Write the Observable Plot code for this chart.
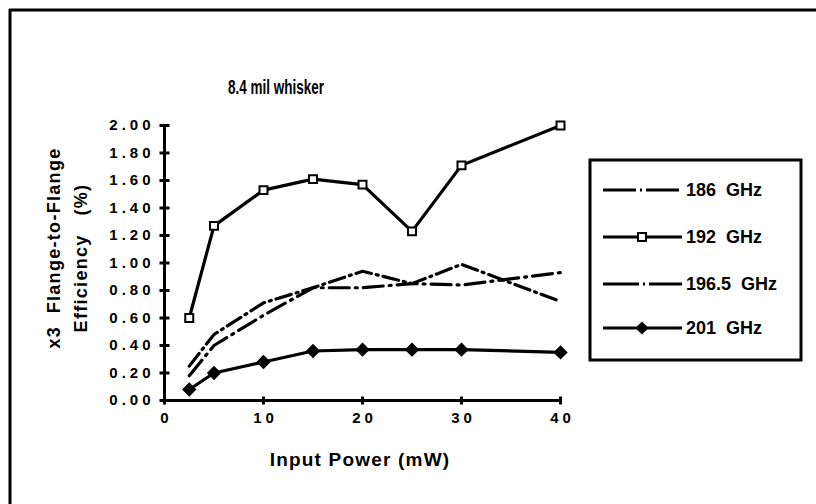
<!DOCTYPE html>
<html>
<head>
<meta charset="utf-8">
<script src="https://cdn.jsdelivr.net/npm/d3@7"></script>
<script src="https://cdn.jsdelivr.net/npm/@observablehq/plot@0.6"></script>
<style>
  html, body { margin: 0; padding: 0; background: #fff; overflow: hidden; }
  #chart { position: relative; width: 816px; height: 504px; overflow: hidden; }
  #chart svg { display: block; font-family: "Liberation Sans", Arial, sans-serif; font-weight: bold; }
  .ticklab text { letter-spacing: 4px; }
</style>
</head>
<body>
<div id="chart"></div>
<script>
// ---- data ----
const power = [2.5, 5, 10, 15, 20, 25, 30, 40];
const eff186 = [0.25, 0.48, 0.71, 0.82, 0.94, 0.85, 0.99, 0.72];
const eff192 = [0.60, 1.27, 1.53, 1.61, 1.57, 1.23, 1.71, 2.00];
const eff1965 = [0.18, 0.40, 0.62, 0.82, 0.82, 0.85, 0.84, 0.93];
const eff201 = [0.08, 0.20, 0.28, 0.36, 0.37, 0.37, 0.37, 0.35];
const seriesNames = ["186  GHz", "192  GHz", "196.5  GHz", "201  GHz"];
const yTicks = [0, 0.2, 0.4, 0.6, 0.8, 1.0, 1.2, 1.4, 1.6, 1.8, 2.0];
const xTicks = [0, 10, 20, 30, 40];
const titleText = "8.4 mil whisker";
const yLabel1 = "x3  Flange-to-Flange";
const yLabel2 = "Efficiency   (%)";
const xLabel = "Input Power (mW)";

const toRows = (vals) => power.map((p, i) => ({x: p, y: vals[i]}));
const r186 = toRows(eff186), r192 = toRows(eff192), r1965 = toRows(eff1965), r201 = toRows(eff201);

const hTick = {draw(ctx) { ctx.moveTo(-5, 0); ctx.lineTo(5, 0); }};
const vTick = {draw(ctx) { ctx.moveTo(0, -4); ctx.lineTo(0, 4); }};

const W = 816, H = 504;
const svg = Plot.plot({
  width: W, height: H,
  marginLeft: 164, marginRight: 256, marginTop: 125, marginBottom: 104,
  x: {domain: [0, 40]},
  y: {domain: [0, 2]},
  style: {fontSize: "14px", fontWeight: "bold", color: "#000", background: "#fff", overflow: "hidden"},
  marks: [
    Plot.axisY({ticks: yTicks, tickSize: 0, tickPadding: 10, tickFormat: d3.format(".2f"), fontSize: 15, className: "ticklab", label: null}),
    Plot.axisX({ticks: xTicks, tickSize: 0, tickPadding: 12, tickFormat: d3.format("d"), fontSize: 15, className: "ticklab", label: null, dx: 2}),
    Plot.ruleX([0], {stroke: "#000", strokeWidth: 3}),
    Plot.ruleY([0], {stroke: "#000", strokeWidth: 3}),
    Plot.dot(yTicks, {x: () => 0, y: d => d, symbol: hTick, stroke: "#000", strokeWidth: 3, r: 5}),
    Plot.dot(xTicks, {x: d => d, y: () => 0, symbol: vTick, stroke: "#000", strokeWidth: 3, r: 5}),
    Plot.line(r186, {x: "x", y: "y", stroke: "#000", strokeWidth: 3.2, strokeDasharray: "16,5,2,5"}),
    Plot.line(r1965, {x: "x", y: "y", stroke: "#000", strokeWidth: 3.2, strokeDasharray: "20,6,2,6"}),
    Plot.line(r192, {x: "x", y: "y", stroke: "#000", strokeWidth: 3.2}),
    Plot.dot(r192, {x: "x", y: "y", symbol: "square", r: 4.5, fill: "#fff", stroke: "#000", strokeWidth: 2}),
    Plot.line(r201, {x: "x", y: "y", stroke: "#000", strokeWidth: 3.2}),
    Plot.dot(r201, {x: "x", y: "y", symbol: "diamond2", r: 5.5, fill: "#000", stroke: "#000", strokeWidth: 1.5})
  ]
});
document.getElementById("chart").appendChild(svg);

const s = d3.select(svg);
// outer frame (left and top edges only)
s.append("line").attr("x1", 10).attr("x2", 10).attr("y1", 9).attr("y2", H).attr("stroke", "#000").attr("stroke-width", 3);
s.append("line").attr("x1", 9).attr("x2", W).attr("y1", 10).attr("y2", 10).attr("stroke", "#000").attr("stroke-width", 3);

// title (condensed look)
s.append("text").attr("x", 228).attr("y", 94).attr("text-anchor", "start")
  .attr("textLength", 96).attr("lengthAdjust", "spacingAndGlyphs")
  .attr("font-size", 20).attr("font-weight", "bold").text(titleText);

// y label (two lines, rotated)
s.append("text").attr("transform", "translate(60,248) rotate(-90)").attr("text-anchor", "middle")
  .attr("font-size", 18).attr("font-weight", "bold").attr("letter-spacing", "1.3px").style("white-space", "pre").text(yLabel1);
s.append("text").attr("transform", "translate(87,258) rotate(-90)").attr("text-anchor", "middle")
  .attr("font-size", 18).attr("font-weight", "bold").attr("letter-spacing", "1.3px").style("white-space", "pre").text(yLabel2);

// x label
s.append("text").attr("x", 360).attr("y", 466).attr("text-anchor", "middle")
  .attr("font-size", 19).attr("font-weight", "bold").attr("letter-spacing", "1.2px").style("white-space", "pre").text(xLabel);

// legend
const lg = s.append("g");
lg.append("rect").attr("x", 590).attr("y", 160).attr("width", 211).attr("height", 200)
  .attr("fill", "#fff").attr("stroke", "#000").attr("stroke-width", 3);
const rowsY = [190, 237, 284, 328];
const dashes = ["33,4,2,4", null, "36,4,2,4", null];
rowsY.forEach((yy, i) => {
  lg.append("line").attr("x1", 603).attr("x2", 682).attr("y1", yy).attr("y2", yy)
    .attr("stroke", "#000").attr("stroke-width", 3).attr("stroke-dasharray", dashes[i]);
  if (i === 1) lg.append("rect").attr("x", 638).attr("y", yy - 4).attr("width", 8).attr("height", 8)
    .attr("fill", "#fff").attr("stroke", "#000").attr("stroke-width", 2);
  if (i === 3) lg.append("path").attr("d", d3.symbol(d3.symbolDiamond2, 110)()).attr("transform", `translate(642,${yy})`)
    .attr("fill", "#000");
  lg.append("text").attr("x", 686).attr("y", yy).attr("dy", "0.36em").attr("text-anchor", "start")
    .attr("font-size", 18).attr("font-weight", "bold").style("white-space", "pre").text(seriesNames[i]);
});
// keep the far right edge clear (no right border in the original)
s.append("rect").attr("x", 806).attr("y", 12).attr("width", 10).attr("height", H).attr("fill", "#fff");
</script>
</body>
</html>
